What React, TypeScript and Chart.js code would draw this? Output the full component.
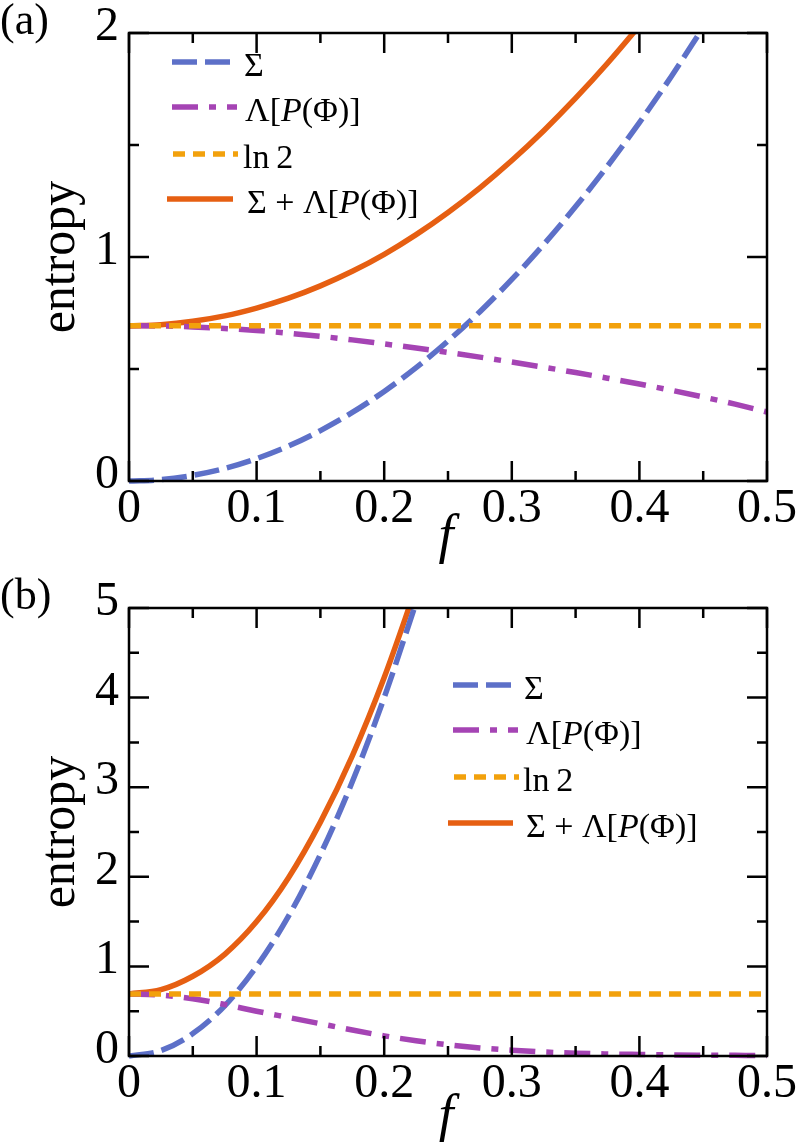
import React, { useEffect, useRef } from "react";
import { Chart, registerables } from "chart.js";
Chart.register(...registerables);

// ---------- data ----------
// Panel (a)
const fSigmaA = [0, 0.025, 0.05, 0.075, 0.1, 0.125, 0.15, 0.175, 0.2, 0.225, 0.25, 0.275, 0.3, 0.325, 0.35, 0.375, 0.4, 0.425, 0.45];
const sigmaA = [0, 0.006, 0.025, 0.056, 0.1, 0.156, 0.225, 0.306, 0.4, 0.506, 0.625, 0.756, 0.9, 1.056, 1.225, 1.406, 1.6, 1.806, 2.025];
const fLambdaA = [0, 0.025, 0.05, 0.075, 0.1, 0.125, 0.15, 0.175, 0.2, 0.225, 0.25, 0.275, 0.3, 0.325, 0.35, 0.375, 0.4, 0.425, 0.45, 0.475, 0.5];
const lambdaA = [0.693, 0.692, 0.688, 0.681, 0.672, 0.66, 0.646, 0.63, 0.612, 0.594, 0.574, 0.553, 0.531, 0.508, 0.484, 0.459, 0.433, 0.405, 0.375, 0.343, 0.308];
const fSumA = [0, 0.025, 0.05, 0.075, 0.1, 0.125, 0.15, 0.175, 0.2, 0.225, 0.25, 0.275, 0.3, 0.325, 0.35, 0.375, 0.4, 0.425];
const sumA = [0.693, 0.698, 0.713, 0.737, 0.772, 0.816, 0.871, 0.936, 1.012, 1.1, 1.199, 1.309, 1.431, 1.564, 1.709, 1.865, 2.033, 2.21];

// Panel (b)
const fSigmaB = [0, 0.025, 0.05, 0.075, 0.1, 0.125, 0.15, 0.175, 0.2, 0.225];
const sigmaB = [0, 0.06, 0.25, 0.56, 1.0, 1.56, 2.25, 3.06, 4.0, 5.06];
const fLambdaB = [0, 0.025, 0.05, 0.075, 0.1, 0.125, 0.15, 0.175, 0.2, 0.225, 0.25, 0.275, 0.3, 0.325, 0.35, 0.375, 0.4, 0.425, 0.45, 0.475, 0.5];
const lambdaB = [0.693, 0.68, 0.64, 0.575, 0.5, 0.43, 0.36, 0.29, 0.225, 0.17, 0.125, 0.09, 0.065, 0.045, 0.032, 0.023, 0.017, 0.012, 0.009, 0.007, 0.005];
const fSumB = [0, 0.025, 0.05, 0.075, 0.1, 0.125, 0.15, 0.175, 0.2, 0.225];
const sumB = [0.693, 0.74, 0.89, 1.135, 1.5, 1.99, 2.61, 3.35, 4.225, 5.23];

// ln 2 reference line
const fLn2 = [0, 0.5];
const ln2Vals = [0.693, 0.693];

// ticks
const xMajorTicks = [0, 0.1, 0.2, 0.3, 0.4, 0.5];
const xTickLabels = ["0", "0.1", "0.2", "0.3", "0.4", "0.5"];
const xMinorTicks = [0.05, 0.15, 0.25, 0.35, 0.45];
const yMajorTicksA = [0, 1, 2];
const yTickLabelsA = ["0", "1", "2"];
const yMinorTicksA = [0.5, 1.5];
const yMajorTicksB = [0, 1, 2, 3, 4, 5];
const yTickLabelsB = ["0", "1", "2", "3", "4", "5"];
const yMinorTicksB = [0.5, 1.5, 2.5, 3.5, 4.5];

const seriesNames = ["Σ", "Λ[P(Φ)]", "ln 2", "Σ + Λ[P(Φ)]"];

// ---------- styles ----------
const FONT = '"Liberation Serif"';
const BASE_PX = 32;
const C_SIGMA = "#5d70c8";
const C_LAMBDA = "#a544b4";
const C_LN2 = "#f2a10c";
const C_SUM = "#e65f12";
const LW = 5.5;
const DASH_SIGMA = [25, 8];
const DASH_LAMBDA = [26, 11, 7, 11];
const DASH_LN2 = [12, 8];

type Seg = { t: string; italic?: boolean };
const legendSegs: Seg[][] = [
  [{ t: "Σ" }],
  [{ t: "Λ[" }, { t: "P", italic: true }, { t: "(Φ)]" }],
  [{ t: "ln\u20092" }],
  [{ t: "Σ + Λ[" }, { t: "P", italic: true }, { t: "(Φ)]" }],
];
const legendStyles = [
  { color: C_SIGMA, dash: DASH_SIGMA },
  { color: C_LAMBDA, dash: DASH_LAMBDA },
  { color: C_LN2, dash: DASH_LN2 },
  { color: C_SUM, dash: [] as number[] },
];

function pts(xs: number[], ys: number[]) {
  return xs.map((x, i) => ({ x, y: ys[i] }));
}

// draw text in the serif face at a small font size, scaled up to the wanted size
function fillScaled(
  ctx: CanvasRenderingContext2D, text: string, x: number, y: number,
  size: number, italic = false, rotate = 0
): number {
  const k = size / BASE_PX;
  ctx.save();
  ctx.translate(x, y);
  if (rotate) ctx.rotate(rotate);
  ctx.scale(k, k);
  ctx.font = `${italic ? "italic " : ""}${BASE_PX}px ${FONT}`;
  ctx.fillText(text, 0, 0);
  const w = ctx.measureText(text).width * k;
  ctx.restore();
  return w;
}

function drawSegs(ctx: CanvasRenderingContext2D, segs: Seg[], x: number, y: number, size: number) {
  let cx = x;
  ctx.textAlign = "left";
  for (const s of segs) {
    cx += fillScaled(ctx, s.t, cx, y, size, !!s.italic);
  }
}

type PanelCfg = {
  letter: string;
  letterY: number;
  fY: number;
  yMajor: number[];
  yLabels: string[];
  yMinor: number[];
  legendRows: { x0: number; x1: number; y: number; tx: number }[];
};

const panelPlugin = {
  id: "panelDecor",
  afterDatasetsDraw(chart: any, _args: any, opts: PanelCfg) {
    const ctx: CanvasRenderingContext2D = chart.ctx;
    const { left, right, top, bottom } = chart.chartArea;
    const xs = chart.scales.x;
    const ys = chart.scales.y;
    ctx.save();
    ctx.setLineDash([]);
    ctx.strokeStyle = "#000";
    ctx.lineWidth = 2.5;
    ctx.lineCap = "butt";
    ctx.strokeRect(left, top, right - left, bottom - top);
    const MAJ = 20, MIN = 10;
    ctx.beginPath();
    xMajorTicks.forEach((v) => {
      const p = xs.getPixelForValue(v);
      ctx.moveTo(p, bottom); ctx.lineTo(p, bottom - MAJ);
      ctx.moveTo(p, top); ctx.lineTo(p, top + MAJ);
    });
    xMinorTicks.forEach((v) => {
      const p = xs.getPixelForValue(v);
      ctx.moveTo(p, bottom); ctx.lineTo(p, bottom - MIN);
      ctx.moveTo(p, top); ctx.lineTo(p, top + MIN);
    });
    opts.yMajor.forEach((v) => {
      const p = ys.getPixelForValue(v);
      ctx.moveTo(left, p); ctx.lineTo(left + MAJ, p);
      ctx.moveTo(right, p); ctx.lineTo(right - MAJ, p);
    });
    opts.yMinor.forEach((v) => {
      const p = ys.getPixelForValue(v);
      ctx.moveTo(left, p); ctx.lineTo(left + MIN, p);
      ctx.moveTo(right, p); ctx.lineTo(right - MIN, p);
    });
    ctx.stroke();

    // tick labels
    ctx.fillStyle = "#000";
    ctx.textBaseline = "alphabetic";
    ctx.textAlign = "center";
    xMajorTicks.forEach((v, i) => {
      fillScaled(ctx, xTickLabels[i], xs.getPixelForValue(v), bottom + 41, 48);
    });
    ctx.textAlign = "right";
    opts.yMajor.forEach((v, i) => {
      fillScaled(ctx, opts.yLabels[i], left - 10, ys.getPixelForValue(v) + 7, 48);
    });

    // axis titles
    ctx.textAlign = "center";
    fillScaled(ctx, "f", 446, opts.fY, 54, true);
    fillScaled(ctx, "entropy", 74, (top + bottom) / 2, 50, false, -Math.PI / 2);

    // panel letter
    ctx.textAlign = "left";
    fillScaled(ctx, opts.letter, 0, opts.letterY, 44);

    // legend
    opts.legendRows.forEach((r, i) => {
      const st = legendStyles[i];
      ctx.beginPath();
      ctx.strokeStyle = st.color;
      ctx.lineWidth = LW;
      ctx.setLineDash(st.dash);
      ctx.moveTo(r.x0, r.y);
      ctx.lineTo(r.x1, r.y);
      ctx.stroke();
      ctx.setLineDash([]);
      ctx.fillStyle = "#000";
      drawSegs(ctx, legendSegs[i], r.tx, r.y + 13.5, 34);
    });
    ctx.restore();
  },
};

function makeDatasets(
  fS: number[], s: number[], fL: number[], l: number[], fSum: number[], sum: number[]
) {
  const common = {
    pointRadius: 0,
    borderWidth: LW,
    fill: false,
    cubicInterpolationMode: "monotone" as const,
    borderCapStyle: "butt" as const,
    clip: { left: 0, top: 0, right: 3, bottom: 4 },
  };
  return [
    { ...common, label: seriesNames[2], data: pts(fLn2, ln2Vals), borderColor: C_LN2, borderDash: DASH_LN2 },
    { ...common, label: seriesNames[1], data: pts(fL, l), borderColor: C_LAMBDA, borderDash: DASH_LAMBDA },
    { ...common, label: seriesNames[0], data: pts(fS, s), borderColor: C_SIGMA, borderDash: DASH_SIGMA },
    { ...common, label: seriesNames[3], data: pts(fSum, sum), borderColor: C_SUM, borderDash: [] },
  ];
}

function Panel(props: {
  top: number;
  height: number;
  yMax: number;
  padding: { left: number; right: number; top: number; bottom: number };
  datasets: any[];
  cfg: PanelCfg;
}) {
  const ref = useRef<HTMLCanvasElement | null>(null);
  useEffect(() => {
    if (!ref.current) return;
    const chart = new Chart(ref.current, {
      type: "line",
      data: { datasets: props.datasets },
      options: {
        animation: false,
        responsive: false,
        devicePixelRatio: 1,
        layout: { padding: props.padding },
        plugins: {
          legend: { display: false },
          tooltip: { enabled: false },
          panelDecor: props.cfg,
        } as any,
        scales: {
          x: { type: "linear", min: 0, max: 0.5, display: false },
          y: { type: "linear", min: 0, max: props.yMax, display: false },
        },
      },
      plugins: [panelPlugin as any],
    });
    let alive = true;
    const redraw = () => {
      if (alive) chart.update("none");
    };
    const fonts = (document as any).fonts;
    if (fonts && fonts.ready) {
      fonts.ready.then(redraw).catch(() => {});
    }
    return () => {
      alive = false;
      chart.destroy();
    };
  }, []);
  return (
    <canvas
      ref={ref}
      width={797}
      height={props.height}
      style={{ position: "absolute", left: 0, top: props.top, width: 797, height: props.height }}
    />
  );
}

export default function App() {
  const dsA = makeDatasets(fSigmaA, sigmaA, fLambdaA, lambdaA, fSumA, sumA);
  const dsB = makeDatasets(fSigmaB, sigmaB, fLambdaB, lambdaB, fSumB, sumB);
  const cfgA: PanelCfg = {
    letter: "(a)",
    letterY: 34,
    fY: 552,
    yMajor: yMajorTicksA,
    yLabels: yTickLabelsA,
    yMinor: yMinorTicksA,
    legendRows: [
      { x0: 172, x1: 237, y: 62, tx: 244 },
      { x0: 172, x1: 237, y: 107, tx: 245 },
      { x0: 173, x1: 238, y: 154, tx: 243 },
      { x0: 167, x1: 233, y: 199, tx: 247 },
    ],
  };
  const cfgB: PanelCfg = {
    letter: "(b)",
    letterY: 38,
    fY: 561,
    yMajor: yMajorTicksB,
    yLabels: yTickLabelsB,
    yMinor: yMinorTicksB,
    legendRows: [
      { x0: 453, x1: 518, y: 114, tx: 524 },
      { x0: 453, x1: 518, y: 159, tx: 526 },
      { x0: 454, x1: 519, y: 206, tx: 523 },
      { x0: 448, x1: 513, y: 252, tx: 526 },
    ],
  };
  return (
    <div style={{ position: "fixed", left: 0, top: 0, width: 797, height: 1142, background: "#fff" }}>
      <Panel top={0} height={571} yMax={2} padding={{ left: 129, right: 30, top: 33, bottom: 90 }} datasets={dsA} cfg={cfgA} />
      <Panel top={571} height={571} yMax={5} padding={{ left: 129, right: 30, top: 37, bottom: 86 }} datasets={dsB} cfg={cfgB} />
    </div>
  );
}
